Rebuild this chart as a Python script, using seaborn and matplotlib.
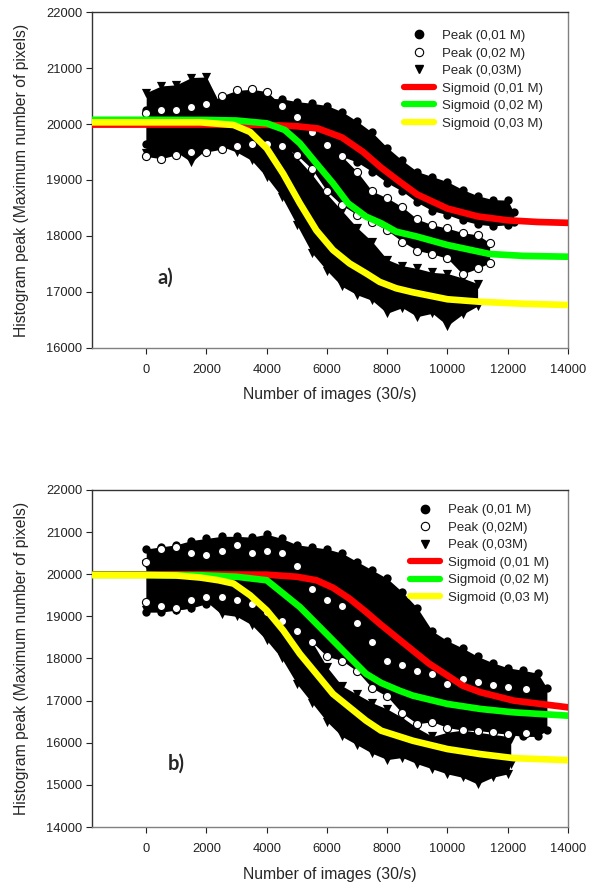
import numpy as np
import pandas as pd
import matplotlib
matplotlib.use('Agg')
import matplotlib.pyplot as plt
from matplotlib.lines import Line2D
import seaborn as sns

#============================================================================
# panel a) - peak clouds read as upper / lower edges of each band
a_x01 = [0, 500, 1000, 1500, 2000, 2500, 3000, 3500, 4000, 4500, 5000, 5500, 6000,
         6500, 7000, 7500, 8000, 8500, 9000, 9500, 10000, 10500, 11000, 11500, 12000, 12200]
a_hi01 = [20250, 20300, 20280, 20320, 20300, 20420, 20480, 20500, 20460, 20450, 20400, 20370, 20330,
          20220, 20050, 19850, 19580, 19350, 19150, 19060, 18970, 18830, 18720, 18650, 18640, 18420]
a_lo01 = [19650, 19650, 19600, 19650, 19650, 19700, 19700, 19700, 19720, 19700, 19680, 19620, 19550,
          19420, 19320, 19150, 18950, 18800, 18600, 18450, 18380, 18280, 18210, 18180, 18200, 18250]

a_x02 = [0, 500, 1000, 1500, 2000, 2500, 3000, 3500, 4000, 4500, 5000, 5500, 6000,
         6500, 7000, 7500, 8000, 8500, 9000, 9500, 10000, 10500, 11000, 11400]
a_hi02 = [20200, 20250, 20250, 20300, 20350, 20500, 20600, 20620, 20580, 20330, 20130, 19850, 19620,
          19420, 19150, 18800, 18680, 18520, 18300, 18200, 18140, 18060, 18020, 17880]
a_lo02 = [19420, 19380, 19450, 19500, 19500, 19550, 19600, 19650, 19650, 19600, 19450, 19200, 18800,
          18550, 18380, 18250, 18100, 17900, 17740, 17680, 17600, 17320, 17420, 17520]

a_x03 = [0, 500, 1000, 1500, 2000, 2500, 3000, 3500, 4000, 4500, 5000, 5500, 6000,
         6500, 7000, 7500, 8000, 8500, 9000, 9500, 10000, 10500, 11000]
a_hi03 = [20560, 20680, 20700, 20830, 20840, 20300, 20150, 20050, 19900, 19700, 19400, 19100, 18750,
          18450, 18150, 17900, 17580, 17470, 17420, 17350, 17330, 17250, 17150]
a_lo03 = [19480, 19420, 19500, 19320, 19550, 19600, 19500, 19350, 19050, 18700, 18200, 17700, 17380,
          17100, 16950, 16850, 16620, 16720, 16560, 16620, 16400, 16600, 16750]

# panel a) - fitted sigmoids
a_sx01 = [-1800, 0, 2000, 4000, 5000, 5700, 6500, 7200, 7800, 8400, 9000, 10000, 11000, 12000, 13000, 14000]
a_sy01 = [19990, 19990, 19990, 19985, 19960, 19920, 19760, 19500, 19220, 18975, 18740, 18490, 18350, 18280, 18250, 18235]
a_sx02 = [-1800, 0, 2000, 3000, 4000, 4600, 5100, 5600, 6200, 6700, 7300, 7800, 8300, 9000, 10000, 11400, 12500, 14000]
a_sy02 = [20075, 20075, 20072, 20062, 20012, 19893, 19655, 19327, 18941, 18584, 18345, 18227, 18077, 17988, 17839, 17679, 17645, 17630]
a_sx03 = [-1800, 0, 1800, 2900, 3450, 4000, 4550, 5100, 5650, 6200, 6750, 7300, 7750, 8300, 8850, 10000, 11100, 12500, 14000]
a_sy03 = [20030, 20030, 20030, 19982, 19857, 19566, 19110, 18584, 18100, 17750, 17510, 17333, 17180, 17066, 16995, 16870, 16825, 16790, 16768]

#============================================================================
# panel b)
b_x01 = [0, 500, 1000, 1500, 2000, 2500, 3000, 3500, 4000, 4500, 5000, 5500, 6000, 6500,
         7000, 7500, 8000, 8500, 9000, 9500, 10000, 10500, 11000, 11500, 12000, 12500, 13000, 13300]
b_hi01 = [20600, 20650, 20700, 20800, 20850, 20900, 20900, 20880, 20950, 20850, 20700, 20650, 20600, 20500,
          20300, 20100, 19900, 19580, 19200, 18650, 18420, 18250, 18050, 17900, 17780, 17720, 17650, 17300]
b_lo01 = [19100, 19100, 19150, 19200, 19300, 19400, 19400, 19400, 19350, 19200, 19100, 18900, 18650, 18400,
          18150, 17900, 17650, 17300, 17000, 16900, 16700, 16500, 16350, 16250, 16200, 16150, 16150, 16300]

b_x02 = [0, 500, 1000, 1500, 2000, 2500, 3000, 3500, 4000, 4500, 5000, 5500, 6000,
         6500, 7000, 7500, 8000, 8500, 9000, 9500, 10000, 10500, 11000, 11500, 12000, 12600]
b_hi02 = [20300, 20600, 20650, 20500, 20450, 20550, 20700, 20500, 20550, 20500, 20200, 19650, 19380,
          19250, 18850, 18400, 17950, 17850, 17700, 17640, 17400, 17520, 17440, 17360, 17320, 17280]
b_lo02 = [19350, 19250, 19200, 19400, 19450, 19450, 19400, 19300, 19100, 18900, 18650, 18400, 18050,
          17950, 17700, 17300, 17100, 16700, 16450, 16500, 16360, 16300, 16290, 16250, 16210, 16220]

b_x03 = [0, 500, 1000, 1500, 2000, 2500, 3000, 3500, 4000, 4500, 5000, 5500, 6000,
         6500, 7000, 7500, 8000, 8500, 9000, 9500, 10000, 10500, 11000, 11500, 12000, 12100]
b_hi03 = [20250, 20300, 20300, 20350, 20300, 20250, 20200, 20100, 19900, 19500, 19000, 18400, 17800,
          17350, 17150, 16950, 16800, 16600, 16350, 16150, 16250, 16300, 16250, 16200, 16150, 16100]
b_lo03 = [19150, 19150, 19150, 19200, 19350, 19050, 19000, 18800, 18430, 18000, 17400, 16950, 16500,
          16150, 15950, 15750, 15600, 15650, 15500, 15380, 15260, 15180, 15020, 15180, 15260, 15500]

b_sx01 = [-1800, 0, 2000, 4000, 5000, 5650, 6200, 6750, 7300, 7750, 8300, 8850, 9400, 10000, 10500, 11100, 12200, 14000]
b_sy01 = [19995, 19995, 19995, 19990, 19940, 19857, 19680, 19420, 19103, 18826, 18507, 18190, 17873, 17595, 17357, 17198, 17000, 16841]
b_sx02 = [-1800, 0, 1800, 3000, 4000, 4550, 5100, 5650, 6200, 6750, 7300, 7800, 8400, 8850, 10000, 11100, 12200, 14000]
b_sy02 = [19985, 19985, 19976, 19940, 19857, 19540, 19222, 18826, 18429, 18030, 17636, 17420, 17238, 17119, 16921, 16802, 16722, 16643]
b_sx03 = [-1800, 0, 1000, 1800, 2400, 2900, 3450, 4000, 4550, 5100, 5650, 6200, 6750, 7300, 7800, 8850, 10000, 11100, 12200, 14000]
b_sy03 = [19980, 19978, 19970, 19921, 19857, 19778, 19500, 19143, 18667, 18111, 17636, 17159, 16841, 16524, 16286, 16048, 15850, 15730, 15635, 15587]

a_labels = ['Peak (0,01 M)', 'Peak (0,02 M)', 'Peak (0,03M)',
            'Sigmoid (0,01 M)', 'Sigmoid (0,02 M)', 'Sigmoid (0,03 M)']
b_labels = ['Peak (0,01 M)', 'Peak (0,02M)', 'Peak (0,03M)',
            'Sigmoid (0,01 M)', 'Sigmoid (0,02 M)', 'Sigmoid (0,03 M)']

#============================================================================
sns.set_style("ticks")
plt.rcParams['font.family'] = ['Liberation Sans', 'DejaVu Sans']

fig = plt.figure(figsize=(5.98, 8.83), dpi=100)
ax_a = fig.add_axes([0.1538, 0.6059, 0.796, 0.3805])
ax_b = fig.add_axes([0.1538, 0.0634, 0.796, 0.3817])


def band(ax, x, lo, hi, marker, z, open_marker=False):
    ax.fill_between(x, lo, hi, color='black', lw=0, zorder=z)
    xs = list(x) + list(x)
    ys = list(hi) + list(lo)
    if open_marker:
        sns.scatterplot(x=xs, y=ys, marker=marker, s=34, color='white',
                        edgecolor='black', linewidth=0.8, ax=ax, zorder=z + 0.5, legend=False)
    else:
        sns.scatterplot(x=xs, y=ys, marker=marker, s=36 if marker == 'o' else 44,
                        color='black', edgecolor='black', linewidth=0, ax=ax,
                        zorder=z + 0.5, legend=False)


def panel(ax, peaks, curves, labels, ylim, tag, tagpos, legpos):
    band(ax, *peaks[0], 'o', 2)
    band(ax, *peaks[2], 'v', 3)
    band(ax, *peaks[1], 'o', 4, open_marker=True)
    for (sx, sy), col in zip(curves, ['#ff0000', '#00ff00', '#ffff00']):
        sns.lineplot(x=sx, y=sy, color=col, lw=4.8, ax=ax, zorder=6,
                     sort=False, estimator=None, solid_joinstyle='round')

    ax.set_xlim(-1800, 14000)
    ax.set_ylim(*ylim)
    ax.set_xticks(range(0, 14001, 2000))
    ax.set_yticks(range(ylim[0], ylim[1] + 1, 1000))
    ax.tick_params(direction='out', length=4, width=0.8, labelsize=9.3, pad=3,
                   colors='#222222')
    ax.tick_params(axis='x', pad=7.5)
    ax.set_xlabel('Number of images (30/s)', fontsize=11.3, labelpad=8.3)
    ax.set_ylabel('Histogram peak (Maximum number of pixels)', fontsize=11.3, labelpad=12.5)
    for side in ['left', 'top']:
        ax.spines[side].set_color('#333333')
    for side in ['right', 'bottom']:
        ax.spines[side].set_color('#808080')
    for sp in ax.spines.values():
        sp.set_linewidth(1.0)

    ax.text(tagpos[0], tagpos[1], tag, transform=ax.transAxes, fontsize=14.5,
            fontweight='bold', family=['Lato', 'DejaVu Sans'], ha='center', va='center')

    handles = [Line2D([], [], marker='o', ls='', color='black', markersize=6),
               Line2D([], [], marker='o', ls='', mfc='white', mec='black', mew=0.8, markersize=6),
               Line2D([], [], marker='v', ls='', color='black', markersize=6),
               Line2D([], [], color='#ff0000', lw=4.5),
               Line2D([], [], color='#00ff00', lw=4.5),
               Line2D([], [], color='#ffff00', lw=4.5)]
    ax.legend(handles, labels, loc='upper left', bbox_to_anchor=legpos, frameon=False,
              fontsize=9.5, handlelength=2.3, handletextpad=0.6, labelspacing=0.4,
              borderaxespad=0, borderpad=0)


panel(ax_a, [(a_x01, a_lo01, a_hi01), (a_x02, a_lo02, a_hi02), (a_x03, a_lo03, a_hi03)],
      [(a_sx01, a_sy01), (a_sx02, a_sy02), (a_sx03, a_sy03)], a_labels,
      (16000, 22000), 'a)', (0.155, 0.208), (0.655, 0.947))
panel(ax_b, [(b_x01, b_lo01, b_hi01), (b_x02, b_lo02, b_hi02), (b_x03, b_lo03, b_hi03)],
      [(b_sx01, b_sy01), (b_sx02, b_sy02), (b_sx03, b_sy03)], b_labels,
      (14000, 22000), 'b)', (0.178, 0.187), (0.668, 0.958))

fig.savefig('out.png', dpi=100)
